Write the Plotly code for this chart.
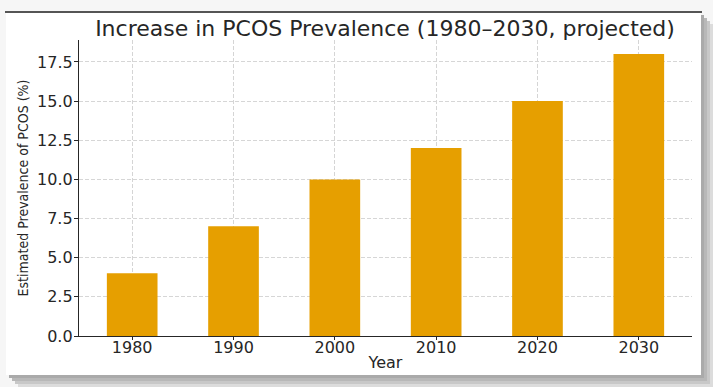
import plotly.graph_objects as go

years = [1980, 1990, 2000, 2010, 2020, 2030]
prevalence = [4, 7, 10, 12, 15, 18]
tick_labels = ["1980", "1990", "2000", "2010", "2020", "2030"]
y_ticks = [0, 2.5, 5, 7.5, 10, 12.5, 15, 17.5]

W, H = 713, 387
L, R, T, B = 79, 21, 40, 51
pw, ph = W - L - R, H - T - B

def px(x):
    return (x - L) / pw

def py(y):
    return (H - B - y) / ph

fig = go.Figure()
fig.add_trace(go.Bar(
    x=years, y=prevalence, width=5,
    marker=dict(color="#E69F00", line=dict(width=0)),
))

shapes = []
# shadow layers
for off, col in [(12, "#dcdcdc"), (9, "#c8c8c8"), (6, "#b8b8b8"), (3, "#aaaaaa")]:
    shapes.append(dict(type="rect", xref="paper", yref="paper", layer="below",
                       x0=px(6 + off), x1=px(701 + off), y0=py(375 + off), y1=py(12 + off),
                       fillcolor=col, line=dict(width=0)))
shapes.append(dict(type="rect", xref="paper", yref="paper", layer="below",
                   x0=px(6), x1=px(701), y0=py(375), y1=py(12),
                   fillcolor="white", line=dict(width=0)))
shapes.append(dict(type="line", xref="paper", yref="paper", layer="below",
                   x0=px(5), x1=px(702), y0=py(12), y1=py(12),
                   line=dict(color="#555555", width=2)))

grid_col = "#d6d6d6"
fig.update_layout(
    width=W, height=H,
    margin=dict(l=L, r=R, t=T, b=B, pad=0),
    paper_bgcolor="#f6f6f6",
    plot_bgcolor="rgba(0,0,0,0)",
    showlegend=False,
    font=dict(family="DejaVu Sans", size=16, color="#262626"),
    title=dict(text="Increase in PCOS Prevalence (1980–2030, projected)",
               x=px(385), xref="paper", xanchor="center",
               y=1 - 28 / H, yref="container", yanchor="middle",
               font=dict(family="DejaVu Sans", size=22, color="#262626")),
    shapes=shapes,
)
fig.update_xaxes(
    range=[1974.75, 2035.25],
    tickvals=years, ticktext=tick_labels,
    showgrid=True, gridcolor="rgba(150,150,150,0.4)", griddash="4px,2px", gridwidth=1,
    layer="above traces",
    showline=True, linecolor="#262626", linewidth=1.3,
    ticks="outside", ticklen=3, tickcolor="#262626",
    tickfont=dict(size=16), ticklabelstandoff=-6,
    zeroline=False,
    title=dict(text="Year", standoff=0, font=dict(size=16)),
)
fig.update_yaxes(
    range=[0, 18.9],
    tickvals=y_ticks, tickformat=".1f",
    showgrid=True, gridcolor=grid_col, griddash="4px,2px", gridwidth=1,
    showline=True, linecolor="#262626", linewidth=1.3,
    ticks="outside", ticklen=4, tickcolor="#262626",
    tickfont=dict(size=16), ticklabelstandoff=-2,
    zeroline=False,
    title=dict(text="Estimated Prevalence of PCOS (%)", standoff=5,
               font=dict(size=14, family="DejaVu Sans Condensed")),
)
fig.write_html("out.html", config={"displayModeBar": False},
               post_script="document.body.style.margin='0';")
